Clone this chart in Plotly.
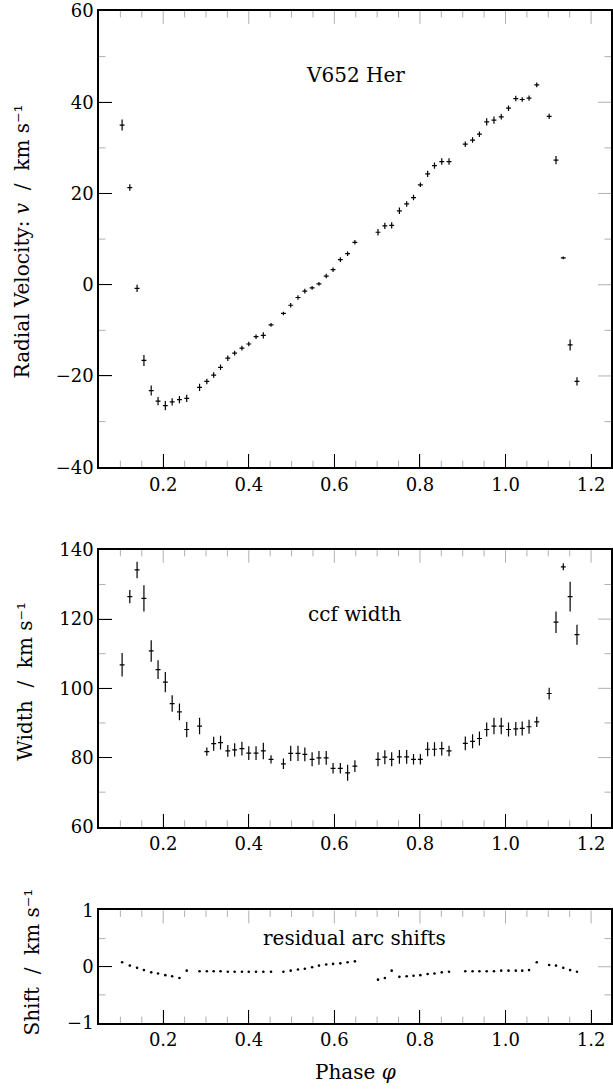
import numpy as np
import plotly.graph_objects as go

# ---------------- data ----------------
phase = [0.104, 0.122, 0.139, 0.155, 0.172, 0.188, 0.205, 0.221, 0.238, 0.255,
         0.285, 0.302, 0.318, 0.334, 0.351, 0.367, 0.384, 0.400, 0.417, 0.434, 0.452,
         0.481, 0.498, 0.515, 0.531, 0.548, 0.564, 0.581, 0.597, 0.614, 0.631, 0.648,
         0.702, 0.718, 0.734, 0.752, 0.769, 0.785, 0.801, 0.818, 0.834, 0.851, 0.868,
         0.906, 0.923, 0.939, 0.956, 0.973, 0.990, 1.007, 1.024, 1.039, 1.055, 1.073,
         1.102, 1.118, 1.135, 1.151, 1.167]

rv = [35.0, 21.3, -0.8, -16.6, -23.2, -25.5, -26.5, -25.7, -25.2, -24.9,
      -22.5, -21.2, -19.8, -18.1, -16.1, -15.0, -13.9, -13.0, -11.4, -11.1, -8.8,
      -6.3, -4.5, -2.8, -1.4, -0.7, 0.2, 1.9, 3.3, 5.5, 6.8, 9.3,
      11.5, 12.9, 13.0, 16.2, 17.7, 19.1, 21.9, 24.3, 26.1, 27.0, 27.0,
      30.8, 31.7, 33.0, 35.7, 36.1, 36.8, 38.7, 40.8, 40.6, 40.9, 43.8,
      36.9, 27.3, 5.9, -13.2, -21.2]

rv_err = [1.2, 0.7, 0.8, 1.2, 1.1, 0.9, 1.0, 0.8, 0.8, 0.8,
          0.8, 0.6, 0.6, 0.6, 0.6, 0.5, 0.5, 0.5, 0.5, 0.7, 0.4,
          0.4, 0.5, 0.5, 0.5, 0.4, 0.4, 0.5, 0.5, 0.5, 0.5, 0.5,
          0.7, 0.7, 0.7, 0.7, 0.6, 0.6, 0.5, 0.7, 0.7, 0.7, 0.7,
          0.6, 0.6, 0.6, 0.8, 0.8, 0.6, 0.6, 0.6, 0.5, 0.6, 0.5,
          0.6, 0.9, 0.3, 1.2, 0.9]

ccf_width = [106.8, 126.5, 134.2, 126.0, 110.8, 105.4, 101.8, 95.6, 93.2, 88.1,
             89.1, 81.7, 84.0, 84.3, 81.9, 82.2, 82.6, 81.3, 81.3, 81.9, 79.5,
             78.2, 81.2, 81.2, 80.9, 79.5, 79.9, 79.9, 76.9, 76.9, 75.6, 77.5,
             79.5, 80.1, 79.5, 80.2, 80.2, 79.5, 79.5, 82.4, 82.4, 82.6, 81.9,
             84.1, 84.7, 85.5, 88.1, 89.1, 89.1, 88.1, 88.3, 88.4, 88.9, 90.3,
             98.5, 119.1, 135.1, 126.5, 115.5]

width_err = [3.4, 1.9, 2.4, 3.8, 3.1, 2.7, 2.9, 2.4, 2.4, 2.2,
             2.4, 1.2, 2.0, 2.0, 1.7, 1.9, 2.0, 2.0, 2.0, 2.4, 1.2,
             1.5, 2.2, 2.2, 2.0, 2.0, 2.0, 2.0, 1.5, 1.5, 2.3, 1.7,
             2.0, 2.0, 2.0, 2.0, 2.0, 1.5, 1.5, 2.0, 2.0, 2.0, 1.5,
             2.0, 2.0, 2.0, 2.0, 2.4, 2.4, 2.0, 2.0, 2.0, 2.0, 1.5,
             1.7, 3.1, 1.0, 4.3, 2.9]

arc_shift = [0.08, 0.02, -0.02, -0.06, -0.10, -0.12, -0.15, -0.17, -0.20, -0.07,
             -0.08, -0.08, -0.08, -0.08, -0.09, -0.09, -0.09, -0.09, -0.09, -0.09, -0.09,
             -0.09, -0.07, -0.05, -0.035, -0.01, 0.02, 0.04, 0.05, 0.06, 0.08, 0.095,
             -0.23, -0.20, -0.07, -0.18, -0.17, -0.16, -0.15, -0.13, -0.12, -0.10, -0.09,
             -0.08, -0.08, -0.08, -0.08, -0.08, -0.07, -0.07, -0.07, -0.07, -0.06, 0.08,
             0.03, 0.02, -0.02, -0.06, -0.09]

# axis limits and tick steps (major, minor)
x_limits = [0.05, 1.2465]
x_steps = (0.2, 0.05)
rv_limits = [-40, 60]
rv_steps = (20, 10)
width_limits = [60, 140]
width_steps = (20, 10)
shift_limits = [-1, 1]
shift_steps = (1, 0.5)

# ---------------- figure ----------------
FONT = "DejaVu Serif"
W, H = 613, 1090
ML, MR, MT, MB = 99, 0, 7, 67
plot_h = H - MT - MB
plot_w = W - ML - MR
MAJOR_LEN, MINOR_LEN = 13, 6.5


def ydom(top_px, bot_px):
    return [(H - MB - bot_px) / plot_h, (H - MB - top_px) / plot_h]


fig = go.Figure()

err_style = dict(type="data", visible=True, thickness=1.2, width=0, color="black")
pt_marker = dict(symbol="line-ew", size=3.5, color="black",
                 line=dict(width=1.2, color="black"))

fig.add_trace(go.Scatter(x=phase, y=rv, mode="markers", marker=pt_marker,
                         error_y=dict(array=rv_err, **err_style),
                         xaxis="x", yaxis="y", showlegend=False))
fig.add_trace(go.Scatter(x=phase, y=ccf_width, mode="markers", marker=pt_marker,
                         error_y=dict(array=width_err, **err_style),
                         xaxis="x2", yaxis="y2", showlegend=False))
fig.add_trace(go.Scatter(x=phase, y=arc_shift, mode="markers",
                         marker=dict(symbol="circle", size=2.6, color="black"),
                         xaxis="x3", yaxis="y3", showlegend=False))

tickfont = dict(family=FONT, size=18, color="black")

common = dict(showline=True, linecolor="black", linewidth=1.5, mirror=True,
              ticks="inside", ticklen=MAJOR_LEN, tickwidth=1, tickcolor="black",
              showgrid=False, zeroline=False, tickfont=tickfont)

xcommon = dict(common, range=x_limits, tick0=x_steps[0], dtick=x_steps[0],
               tickformat=".1f")

fig.update_layout(
    template="simple_white",
    width=W, height=H,
    margin=dict(l=ML, r=MR, t=MT, b=MB),
    paper_bgcolor="white", plot_bgcolor="white",
    font=dict(family=FONT, color="black"),
    showlegend=False,
    xaxis=dict(xcommon, anchor="y", domain=[0, 1]),
    xaxis2=dict(xcommon, anchor="y2", domain=[0, 1]),
    xaxis3=dict(xcommon, anchor="y3", domain=[0, 1]),
    yaxis=dict(common, anchor="x", domain=ydom(7, 465), range=rv_limits,
               tick0=rv_limits[0], dtick=rv_steps[0]),
    yaxis2=dict(common, anchor="x2", domain=ydom(548, 826), range=width_limits,
                tick0=width_limits[0], dtick=width_steps[0]),
    yaxis3=dict(common, anchor="x3", domain=ydom(910, 1023), range=shift_limits,
                tick0=shift_limits[0], dtick=shift_steps[0]),
)


# ---- inside tick marks on all four sides, derived from the axis tick steps ----
def tick_values(lo, hi, step):
    first = np.ceil(lo / step - 1e-9) * step
    vals = np.arange(first, hi + 1e-9, step)
    return [round(float(v), 6) for v in vals if lo + 1e-9 < v < hi - 1e-9]


def is_major(v, major):
    q = v / major
    return abs(q - round(q)) < 1e-6


shapes = []
tick_line = dict(color="black", width=1)
for xr, yr, ylim, ysteps in [("x", "y", rv_limits, rv_steps),
                             ("x2", "y2", width_limits, width_steps),
                             ("x3", "y3", shift_limits, shift_steps)]:
    # x ticks, bottom and top of the panel
    for v in tick_values(x_limits[0], x_limits[1], x_steps[1]):
        L = MAJOR_LEN if is_major(v, x_steps[0]) else MINOR_LEN
        for anchor, sign in [(0, 1), (1, -1)]:
            shapes.append(dict(type="line", xref=xr, yref=yr + " domain",
                               x0=v, x1=v, ysizemode="pixel", yanchor=anchor,
                               y0=0, y1=sign * L, line=tick_line, layer="above"))
    # y ticks, left and right of the panel
    for v in tick_values(ylim[0], ylim[1], ysteps[1]):
        L = MAJOR_LEN if is_major(v, ysteps[0]) else MINOR_LEN
        for anchor, sign in [(0, 1), (1, -1)]:
            shapes.append(dict(type="line", xref=xr + " domain", yref=yr,
                               y0=v, y1=v, xsizemode="pixel", xanchor=anchor,
                               x0=0, x1=sign * L, line=tick_line, layer="above"))
fig.update_layout(shapes=shapes)

ann_font = dict(family=FONT, size=20, color="black")


def px_x(px):
    return (px - ML) / plot_w


def px_y(py):
    return (H - MB - py) / plot_h


annotations = [
    dict(text="V652 Her", x=px_x(356), y=px_y(71)),
    dict(text="ccf width", x=px_x(356), y=px_y(612)),
    dict(text="residual arc shifts", x=px_x(355), y=px_y(938)),
    dict(text="Radial Velocity: <i>v</i>  /  km s⁻¹", x=px_x(22), y=px_y(238), textangle=-90),
    dict(text="Width  /  km s⁻¹", x=px_x(25), y=px_y(680), textangle=-90),
    dict(text="Shift  /  km s⁻¹", x=px_x(32), y=px_y(962), textangle=-90),
    dict(text="Phase <i>φ</i>", x=px_x(356), y=px_y(1072)),
]
for a in annotations:
    a.update(xref="paper", yref="paper", showarrow=False, font=ann_font,
             xanchor="center", yanchor="middle")
fig.update_layout(annotations=annotations)

fig.write_html("out.html")
